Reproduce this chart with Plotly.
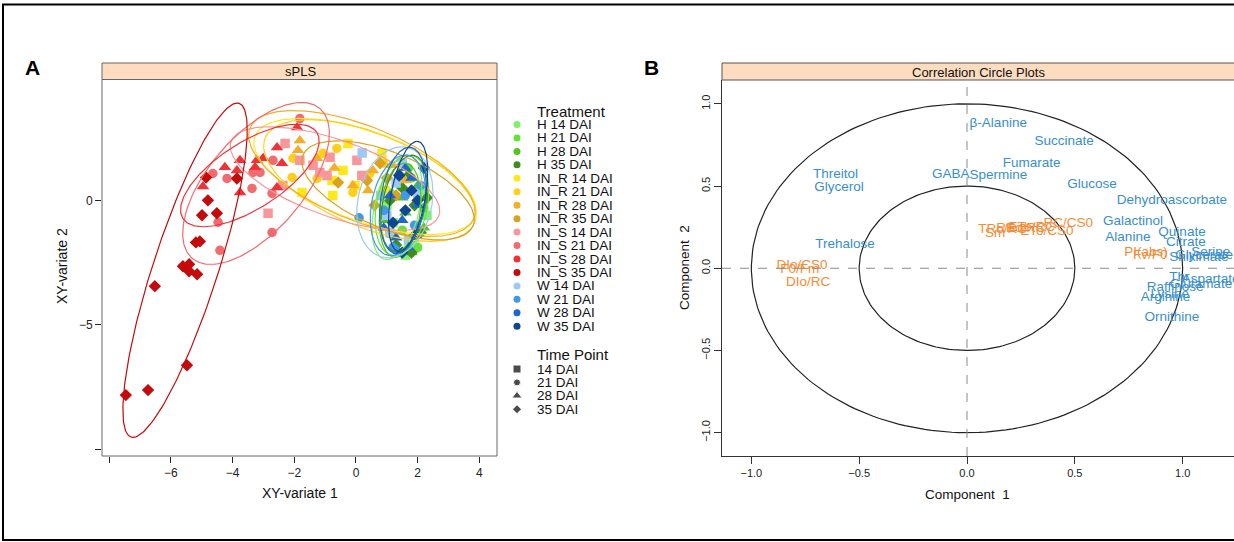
import numpy as np
import plotly.graph_objects as go

# ---------------- data: panel A (sPLS individuals) ----------------
groups = ["H 14 DAI", "H 21 DAI", "H 28 DAI", "H 35 DAI",
          "IN_R 14 DAI", "IN_R 21 DAI", "IN_R 28 DAI", "IN_R 35 DAI",
          "IN_S 14 DAI", "IN_S 21 DAI", "IN_S 28 DAI", "IN_S 35 DAI",
          "W 14 DAI", "W 21 DAI", "W 28 DAI", "W 35 DAI"]
group_colors = ["#80F068", "#66E03A", "#52C41E", "#3D8C1E",
                "#FFE81A", "#FFD01A", "#F5AE27", "#D9A21F",
                "#F7979C", "#F26B6E", "#EE3338", "#C40A0A",
                "#9CC9F5", "#3F98E8", "#1E68CC", "#0F4592"]
time_points = ["14 DAI", "21 DAI", "28 DAI", "35 DAI"]
time_symbols = ["square", "circle", "triangle-up", "diamond"]

h14_x = [1.6, 1.9, 2.1, 1.2, 1.4, 2.3, 1.7, 1.0]
h14_y = [-2.2, -1.5, 0.4, -0.9, 0.8, -0.6, -2.0, -0.2]
h21_x = [1.3, 1.8, 2.2, 1.1, 1.5, 2.0, 0.9, 1.7]
h21_y = [-1.8, 0.9, -0.3, 0.3, -1.2, -1.9, -0.6, 1.3]
h28_x = [1.2, 1.6, 2.0, 1.4, 2.2, 1.8, 1.0, 1.5]
h28_y = [-1.4, -0.5, 0.6, 1.1, -1.1, -2.1, -0.8, 0.1]
h35_x = [1.5, 1.9, 2.1, 1.3, 1.7, 2.3, 1.1, 1.8]
h35_y = [0.5, -0.2, -1.3, -1.8, 1.0, 0.1, 0.0, -2.1]
inr14_x = [-0.26, -0.42, -0.78, -0.75, -1.75, 0.84, -0.03, 0.94]
inr14_y = [2.29, 1.20, 0.80, 0.20, 0.32, 1.89, 0.60, 0.40]
inr21_x = [-2.04, -1.07, -0.62, -2.07, -1.26, 0.45, -0.10, 0.90]
inr21_y = [1.69, 1.89, 2.09, 0.92, 0.88, 1.08, 0.32, 1.50]
inr28_x = [-1.82, -1.88, -1.26, -0.10, 0.55, 1.17, 0.39, -0.70, 1.60]
inr28_y = [2.41, 2.01, 1.69, 0.60, 1.20, 1.41, 0.40, 1.30, 0.80]
inr35_x = [-0.58, 0.78, 0.36, 1.00, 1.30, 0.60]
inr35_y = [0.72, 1.49, 0.80, 0.90, 0.20, -0.20]
ins14_x = [-2.30, -1.82, -1.39, -1.17, -0.94, -0.84, 0.03, 0.19, -2.85, -2.37]
ins14_y = [2.29, 1.61, 1.41, 1.12, 1.00, 1.73, 1.61, 1.00, -0.52, 0.60]
ins21_x = [-4.64, -4.18, -3.37, -3.34, -3.11, -2.69, -2.72, -4.47, -2.72, -4.41, -1.82]
ins21_y = [1.08, 0.88, 0.48, 1.12, 1.12, 1.61, 0.28, -0.88, -1.29, -2.01, 3.29]
ins28_x = [-4.96, -4.25, -3.86, -3.76, -3.76, -3.21, -3.01, -3.27, -2.56, -2.40, -2.56, -1.91]
ins28_y = [0.56, 1.33, 1.20, 1.61, 0.32, 1.61, 1.69, 1.33, 2.13, 1.49, 0.52, 2.93]
ins35_x = [-4.86, -4.80, -4.99, -4.51, -5.19, -5.06, -5.61, -5.41, -5.41, -5.15, -6.52, -5.48, -6.74, -7.46, -3.86]
ins35_y = [0.92, 0.0, -0.60, -0.52, -1.69, -1.65, -2.65, -2.57, -2.85, -2.97, -3.45, -6.63, -7.63, -7.83, 0.88]
w14_x = [0.2, 1.0, 1.3, 1.7, 0.8, 1.5, 2.0, 1.1]
w14_y = [1.9, -0.6, 0.7, -1.6, 0.2, 1.5, 0.3, -1.3]
w21_x = [0.1, 1.2, 1.6, 1.9, 1.4, 0.9, 2.1, 1.3]
w21_y = [-0.7, -1.9, 0.2, -1.0, 1.0, -0.4, 0.6, -2.0]
w28_x = [1.1, 1.5, 1.8, 1.3, 2.0, 1.6, 0.9, 1.7]
w28_y = [0.2, -0.8, 0.9, -1.5, -0.2, 1.3, -1.1, -1.9]
w35_x = [1.4, 1.8, 2.2, 1.6, 1.2, 1.9, 1.5, 2.0]
w35_y = [1.0, 0.4, 1.3, -0.4, -0.9, -1.4, -2.1, 0.0]

group_x = [h14_x, h21_x, h28_x, h35_x, inr14_x, inr21_x, inr28_x, inr35_x,
           ins14_x, ins21_x, ins28_x, ins35_x, w14_x, w21_x, w28_x, w35_x]
group_y = [h14_y, h21_y, h28_y, h35_y, inr14_y, inr21_y, inr28_y, inr35_y,
           ins14_y, ins21_y, ins28_y, ins35_y, w14_y, w21_y, w28_y, w35_y]

# confidence ellipses: centre and two conjugate semi-axis vectors (data units)
ell_cx = [1.33, 1.49, 1.43, 1.56, 0.29, 0.45, 0.19, 1.04, -0.68, -3.24, -3.44, -5.54, 1.26, 1.36, 1.52, 1.69]
ell_cy = [-0.28, -0.20, -0.40, -0.12, 0.96, 0.80, 1.08, 0.40, 0.88, 0.68, 1.00, -2.81, -0.08, -0.20, 0.00, 0.16]
ell_ux = [0.39, 0.32, 0.19, 0.32, 3.57, 3.40, 3.63, 2.76, 3.37, 2.07, 2.17, 1.75, 0.39, 0.32, 0.26, 0.32]
ell_uy = [2.09, 2.01, 1.89, 1.93, -1.61, -1.69, -1.81, -1.41, -1.49, 3.01, 1.73, 6.71, 2.21, 2.01, 2.13, 2.21]
ell_vx = [0.71, 0.81, 0.65, 0.68, -0.49, -0.55, -0.55, -0.45, -0.42, 1.17, 0.58, 1.00, 1.17, 0.84, 0.71, 0.55]
ell_vy = [-0.20, -0.20, -0.12, -0.16, -1.69, -1.77, -1.77, -1.41, -1.45, -1.24, -1.12, -0.40, -0.32, -0.20, -0.16, -0.12]

# ---------------- data: panel B (correlation circle) ----------------
blue_labels = ["β-Alanine", "Succinate", "Fumarate", "GABA", "Spermine", "Glucose",
               "Dehydroascorbate", "Threitol", "Glycerol", "Trehalose", "Galactinol",
               "Alanine", "Quinate", "Citrate", "Serine", "Glycerate", "Shikimate",
               "Thr", "Aspartate", "Glutamate", "Raffinose", "Lysine", "Arginine", "Ornithine"]
blue_x = [0.145, 0.45, 0.30, -0.075, 0.145, 0.58, 0.95, -0.61, -0.594, -0.566, 0.77,
          0.746, 0.997, 1.015, 1.13, 1.10, 1.075, 0.985, 1.13, 1.085, 0.965, 0.94, 0.92, 0.95]
blue_y = [0.878, 0.77, 0.634, 0.568, 0.561, 0.507, 0.41, 0.568, 0.488, 0.142, 0.282,
          0.184, 0.215, 0.154, 0.093, 0.075, 0.063, -0.06, -0.07, -0.10, -0.12, -0.16, -0.18, -0.30]
orange_labels = ["DIo/CS0", "F0/Fm", "DIo/RC", "Sm", "TRo/RC", "REo/RC", "ETo/RC",
                 "ETo/CS0", "RC/CS0", "PI(abs)", "Fv/F0"]
orange_x = [-0.765, -0.775, -0.737, 0.13, 0.165, 0.25, 0.30, 0.37, 0.47, 0.83, 0.85]
orange_y = [0.014, -0.01, -0.09, 0.21, 0.235, 0.24, 0.245, 0.225, 0.27, 0.093, 0.074]
circle_radii = [1.0, 0.5]

FONT = "Liberation Sans, Arial, sans-serif"
W, H = 1234, 542

fig = go.Figure()

# ---- panel A points ----
for gi, name in enumerate(groups):
    sym = time_symbols[gi % 4]
    size = 11 if sym == "triangle-up" else 9.5
    fig.add_trace(go.Scatter(x=group_x[gi], y=group_y[gi], mode="markers",
                             marker=dict(color=group_colors[gi], symbol=sym, size=size,
                                         line=dict(width=0)),
                             xaxis="x", yaxis="y", showlegend=False, hoverinfo="skip"))
# ---- panel A ellipses ----
t = np.linspace(0, 2 * np.pi, 200)
for gi in range(len(groups)):
    ex = ell_cx[gi] + ell_ux[gi] * np.cos(t) + ell_vx[gi] * np.sin(t)
    ey = ell_cy[gi] + ell_uy[gi] * np.cos(t) + ell_vy[gi] * np.sin(t)
    fig.add_trace(go.Scatter(x=ex, y=ey, mode="lines",
                             line=dict(color=group_colors[gi], width=1.2),
                             xaxis="x", yaxis="y", showlegend=False, hoverinfo="skip"))

# ---- panel B circles ----
for r in circle_radii:
    fig.add_trace(go.Scatter(x=r * np.cos(t), y=r * np.sin(t), mode="lines",
                             line=dict(color="#222222", width=1.2),
                             xaxis="x2", yaxis="y2", showlegend=False, hoverinfo="skip"))
fig.add_trace(go.Scatter(x=blue_x, y=blue_y, mode="text", text=blue_labels,
                         textfont=dict(color="#388ECC", size=13.5, family=FONT),
                         textposition="middle center", xaxis="x2", yaxis="y2",
                         showlegend=False, hoverinfo="skip"))
fig.add_trace(go.Scatter(x=orange_x, y=orange_y, mode="text", text=orange_labels,
                         textfont=dict(color="#F68B33", size=13.5, family=FONT),
                         textposition="middle center", xaxis="x2", yaxis="y2",
                         showlegend=False, hoverinfo="skip"))

# ---- legend (drawn on a pixel overlay axis) ----
leg_x, txt_x = 517, 535
tr_y0, tr_dy = 124.5, 13.45
tp_y0, tp_dy = 369, 13.4
fig.add_trace(go.Scatter(x=[leg_x] * len(groups),
                         y=[tr_y0 + i * tr_dy for i in range(len(groups))],
                         mode="markers", marker=dict(color=group_colors, size=7, symbol="circle"),
                         xaxis="x3", yaxis="y3", showlegend=False, hoverinfo="skip"))
fig.add_trace(go.Scatter(x=[leg_x] * 4, y=[tp_y0 + i * tp_dy for i in range(4)],
                         mode="markers", marker=dict(color="black", size=[8, 7, 9, 7],
                                                     symbol=time_symbols),
                         xaxis="x3", yaxis="y3", showlegend=False, hoverinfo="skip"))

ann = []
def px_text(x, y, s, size, xanchor="left", bold=False, angle=0, color="#111111"):
    ann.append(dict(x=x, y=y, xref="x3", yref="y3", text=("<b>%s</b>" % s) if bold else s,
                    showarrow=False, xanchor=xanchor, yanchor="middle", textangle=angle,
                    font=dict(family=FONT, size=size, color=color)))

px_text(txt_x, 111, "Treatment", 15)
for i, g in enumerate(groups):
    px_text(txt_x, tr_y0 + i * tr_dy, g, 13.5)
px_text(txt_x, 354, "Time Point", 15)
for i, g in enumerate(time_points):
    px_text(txt_x, tp_y0 + i * tp_dy, g, 13.5)

# panel labels, strips, axis titles
px_text(32, 67, "A", 21, xanchor="center", bold=True, color="black")
px_text(651, 67, "B", 21, xanchor="center", bold=True, color="black")
px_text(300, 71.5, "sPLS", 13, xanchor="center")
px_text(978, 72, "Correlation Circle Plots", 13, xanchor="center")
px_text(300, 493, "XY-variate 1", 14, xanchor="center")
px_text(62, 266, "XY-variate 2", 14, xanchor="center", angle=-90)
px_text(967, 494, "Component  1", 13.5, xanchor="center")
px_text(684, 268, "Component  2", 13.5, xanchor="center", angle=-90)

def prect(x0, x1, y0, y1, **kw):
    return dict(type="rect", xref="paper", yref="paper", x0=x0 / W, x1=x1 / W,
                y0=1 - y1 / H, y1=1 - y0 / H, **kw)

shapes = [
    # outer frame (right side lies beyond the picture)
    prect(3, 1250, 4.5, 540, line=dict(color="black", width=2)),
    # strips
    prect(102, 497, 63, 79.5, fillcolor="#FDDCBF", line=dict(color="#666666", width=1)),
    prect(722, 1250, 63, 80, fillcolor="#FDDCBF", line=dict(color="#555555", width=1)),
    # panel A box
    dict(type="rect", xref="x domain", yref="y domain", x0=0, x1=1, y0=0, y1=1,
         line=dict(color="#666666", width=1)),
    # panel B dashed zero lines
    dict(type="line", xref="x2", yref="y2 domain", x0=0, x1=0, y0=0, y1=1,
         line=dict(color="#8a8a8a", width=1, dash="dash")),
    dict(type="line", xref="x2 domain", yref="y2", x0=0, x1=1, y0=0, y1=0,
         line=dict(color="#8a8a8a", width=1, dash="dash")),
]

tickfont = dict(family=FONT, size=12, color="#222222")
tickfont2 = dict(family=FONT, size=11, color="#222222")
fig.update_layout(
    width=W, height=H, margin=dict(l=0, r=0, t=0, b=0),
    paper_bgcolor="white", plot_bgcolor="rgba(0,0,0,0)",
    showlegend=False, annotations=ann, shapes=shapes,
    xaxis=dict(domain=[102 / W, 497 / W], range=[-8.233, 4.571], anchor="y",
               tickvals=[-8, -6, -4, -2, 0, 2, 4],
               ticktext=["", "\u22126", "\u22124", "\u22122", "0", "2", "4"],
               ticks="outside", ticklen=6, tickcolor="#222222", showgrid=False,
               zeroline=False, showline=False, tickfont=tickfont),
    yaxis=dict(domain=[1 - 456 / H, 1 - 79.5 / H], range=[-10.28, 4.86], anchor="x",
               tickvals=[-10, -5, 0], ticktext=["", "\u22125", "0"],
               ticks="outside", ticklen=6, tickcolor="#222222", showgrid=False,
               zeroline=False, showline=False, tickfont=tickfont),
    xaxis2=dict(domain=[722 / W, 1.0], range=[-1.136, 1.238], anchor="y2",
                tickvals=[-1, -0.5, 0, 0.5, 1],
                ticktext=["\u22121.0", "\u22120.5", "0.0", "0.5", "1.0"],
                ticks="outside", ticklen=7, tickcolor="#333333", showgrid=False,
                zeroline=False, showline=True, linecolor="#333333", linewidth=1,
                tickfont=tickfont2),
    yaxis2=dict(domain=[1 - 456 / H, 1 - 80 / H], range=[-1.142, 1.145], anchor="x2",
                tickvals=[-1, -0.5, 0, 0.5, 1],
                ticktext=["\u22121.0", "\u22120.5", "0.0", "0.5", "1.0"],
                ticks="outside", ticklen=7, tickcolor="#333333", showgrid=False,
                zeroline=False, showline=True, linecolor="#333333", linewidth=1,
                tickangle=-90, tickfont=tickfont2),
    xaxis3=dict(domain=[0, 1], range=[0, W], anchor="y3", visible=False, fixedrange=True),
    yaxis3=dict(domain=[0, 1], range=[H, 0], anchor="x3", visible=False, fixedrange=True),
)

fig.write_html("out.html")
